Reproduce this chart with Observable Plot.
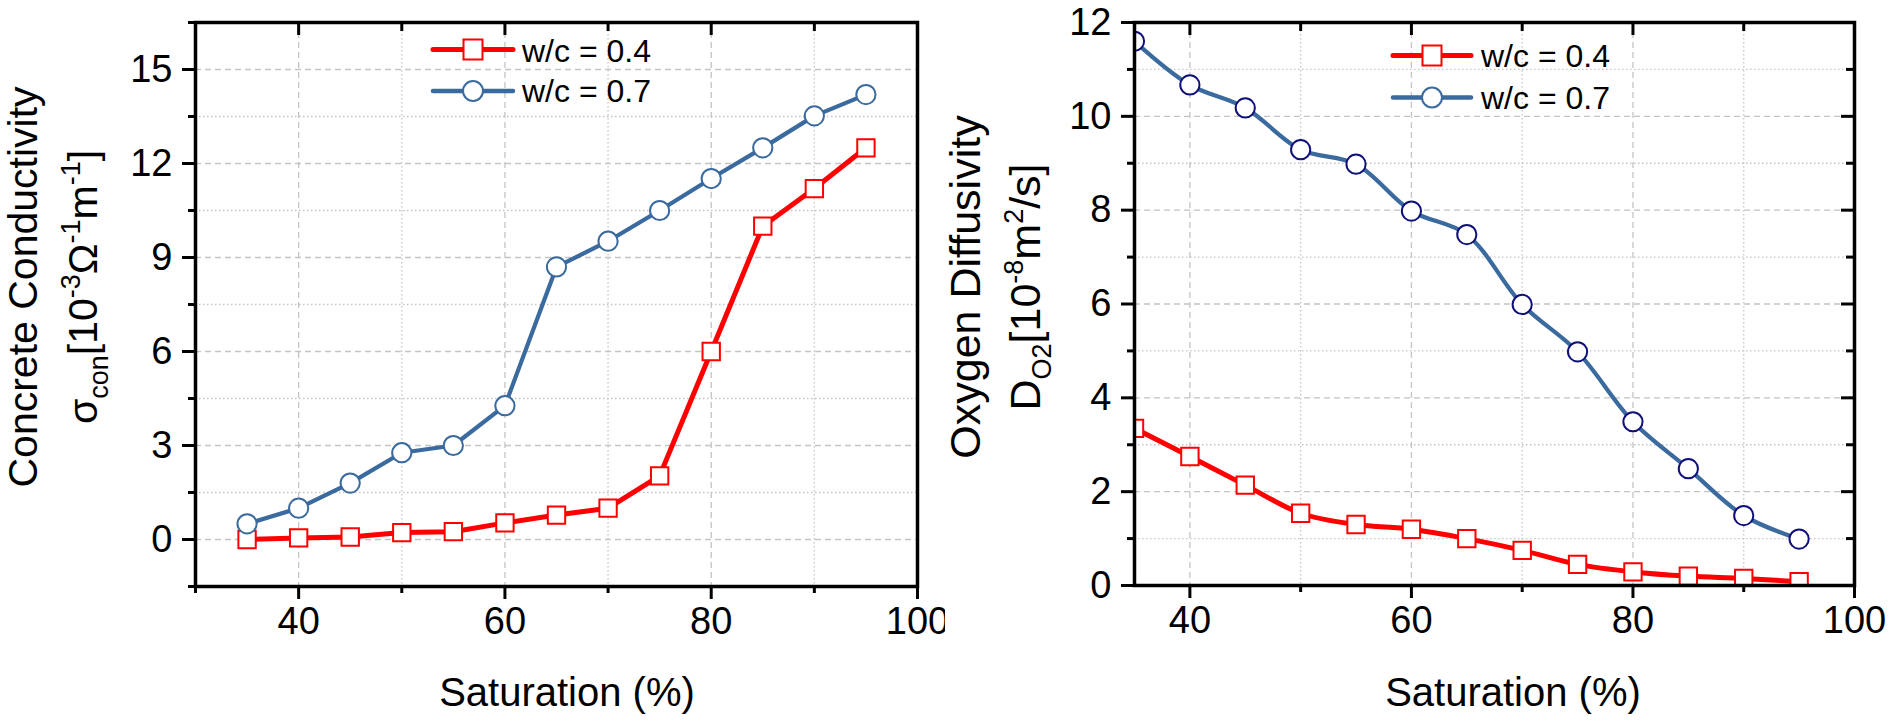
<!DOCTYPE html>
<html><head><meta charset="utf-8">
<script src="https://cdn.jsdelivr.net/npm/d3@7"></script>
<script src="https://cdn.jsdelivr.net/npm/@observablehq/plot@0.6"></script>
<style>
body{margin:0;background:#fff;}
#wrap{display:flex;width:1890px;height:724px;overflow:hidden;}
#wrap svg{display:block;}
</style>
</head><body><div id="wrap"></div>
<script>
// ---- data ----
const saturation = [35,40,45,50,55,60,65,70,75,80,85,90,95];
const seriesNames = ["w/c = 0.4", "w/c = 0.7"];
const conductivityWc04 = [0, 0.05, 0.08, 0.22, 0.25, 0.53, 0.78, 1.0, 2.03, 6.0, 10.0, 11.2, 12.5];
const conductivityWc07 = [0.5, 1.0, 1.8, 2.77, 3.0, 4.27, 8.7, 9.52, 10.5, 11.52, 12.5, 13.52, 14.2];
const diffusivityWc04 = [3.35, 2.75, 2.14, 1.54, 1.30, 1.2, 1.0, 0.75, 0.45, 0.29, 0.2, 0.15, 0.08];
const diffusivityWc07 = [11.6, 10.67, 10.18, 9.29, 8.98, 7.98, 7.48, 5.99, 4.98, 3.49, 2.49, 1.49, 0.99];

const xMajorTicks = [40, 60, 80, 100];
const xMinorTicksLeft = [30, 50, 70, 90];
const xMinorTicksRight = [50, 70, 90];
const condMajorTicks = [0, 3, 6, 9, 12, 15];
const condMinorTicks = [-1.5, 1.5, 4.5, 7.5, 10.5, 13.5, 16.5];
const diffMajorTicks = [0, 2, 4, 6, 8, 10, 12];
const diffMinorTicks = [1, 3, 5, 7, 9, 11];

const xTitle = "Saturation (%)";
const FONT = "'Liberation Sans', Arial, Helvetica, sans-serif";
const RED = "#ff0000";
const BLUE = "#3a6a9e";
const NAVY = "#10107a";
const GRID = "#c4c4c4";

function buildPanel(cfg) {
  const W = 945, H = 724, MT = 22;
  const innerW = W - cfg.ml - cfg.mr, innerH = H - MT - cfg.mb;
  const d04 = saturation.map((s, i) => ({s, v: cfg.a[i]}));
  const d07 = saturation.map((s, i) => ({s, v: cfg.b[i]}));
  const tk = {strokeWidth: 3, label: null, stroke: "black"};
  const inside = (arr, dom) => arr.filter(d => d > dom[0] && d < dom[1]);
  const marks = [
    Plot.ruleX(inside(xMajorTicks, cfg.xDomain), {stroke: GRID, strokeWidth: 1.3, strokeDasharray: "6,4"}),
    Plot.ruleX(inside(cfg.xMinor, cfg.xDomain), {stroke: GRID, strokeWidth: 1.3, strokeDasharray: "1.5,2.5"}),
    Plot.ruleY(inside(cfg.yMajor, cfg.yDomain), {stroke: GRID, strokeWidth: 1.3, strokeDasharray: "6,4"}),
    Plot.ruleY(inside(cfg.yMinor, cfg.yDomain), {stroke: GRID, strokeWidth: 1.3, strokeDasharray: "1.5,2.5"}),
    Plot.line(d04, {x: "s", y: "v", stroke: RED, strokeWidth: 5, curve: cfg.curve, clip: true}),
    Plot.dot(d04, {x: "s", y: "v", symbol: "square", r: 9.8, fill: "white", stroke: RED, strokeWidth: 2, clip: true}),
    Plot.line(d07, {x: "s", y: "v", stroke: BLUE, strokeWidth: 4.2, curve: cfg.curve, clip: true}),
    Plot.dot(d07, {x: "s", y: "v", symbol: "circle", r: 9.6, fill: "white", stroke: cfg.circleStroke, strokeWidth: 2, clip: true}),
    Plot.axisX({ticks: xMajorTicks, tickSize: 13, tickPadding: 8, fontSize: 38, ...tk}),
    Plot.axisX({ticks: cfg.xMinor, tickSize: 7, text: null, ...tk}),
    Plot.axisY({ticks: cfg.yMajor, tickSize: 13, tickPadding: 10, fontSize: 38, ...tk}),
    Plot.axisY({ticks: cfg.yMinor, tickSize: 7, text: null, ...tk}),
    // inward ticks on the top edge
    Plot.tickX(inside(xMajorTicks, cfg.xDomain), {x: d => d, stroke: "black", strokeWidth: 3, insetBottom: innerH - 13}),
    Plot.tickX(inside(cfg.xMinor, cfg.xDomain), {x: d => d, stroke: "black", strokeWidth: 3, insetBottom: innerH - 9})
  ];
  if (cfg.rightTicks) {
    marks.push(Plot.tickY(inside(cfg.yMajor, cfg.yDomain), {y: d => d, stroke: "black", strokeWidth: 3, insetLeft: innerW - 13}));
    marks.push(Plot.tickY(inside(cfg.yMinor, cfg.yDomain), {y: d => d, stroke: "black", strokeWidth: 3, insetLeft: innerW - 8}));
  }
  marks.push(Plot.frame({stroke: "black", strokeWidth: 3.5}));
  const svg = Plot.plot({
    width: W, height: H,
    marginLeft: cfg.ml, marginRight: cfg.mr, marginTop: MT, marginBottom: cfg.mb,
    style: {fontFamily: FONT, background: "white", color: "black", overflow: "visible"},
    x: {domain: cfg.xDomain},
    y: {domain: cfg.yDomain},
    marks
  });

  const root = d3.select(svg);

  // legend
  const lg = root.append("g").attr("text-anchor", "start");
  seriesNames.forEach((name, i) => {
    const y = cfg.leg.ys[i];
    lg.append("line").attr("x1", cfg.leg.x1).attr("x2", cfg.leg.x2).attr("y1", y).attr("y2", y)
      .attr("stroke", i === 0 ? RED : BLUE).attr("stroke-width", i === 0 ? 5 : 4.5).attr("stroke-linecap", "round");
    const cx = (cfg.leg.x1 + cfg.leg.x2) / 2;
    if (i === 0) {
      lg.append("rect").attr("x", cx - 9.5).attr("y", y - 10).attr("width", 19).attr("height", 20)
        .attr("fill", "white").attr("stroke", RED).attr("stroke-width", 2);
    } else {
      lg.append("circle").attr("cx", cx).attr("cy", y).attr("r", 10)
        .attr("fill", "white").attr("stroke", BLUE).attr("stroke-width", 2);
    }
    lg.append("text").attr("x", cfg.leg.tx).attr("y", cfg.leg.bases[i]).attr("text-anchor", "start")
      .attr("font-family", FONT).attr("font-size", 32).attr("fill", "black").text(name);
  });
  // x title
  root.append("text").attr("x", cfg.xtx).attr("y", 706).attr("text-anchor", "middle")
    .attr("font-family", FONT).attr("font-size", 40).attr("fill", "black").text(xTitle);
  // y title
  const yt = root.append("g").attr("font-family", FONT).attr("font-size", cfg.ytSize).attr("fill", "black");
  yt.append("text").attr("transform", `translate(${cfg.yt1},${cfg.ytc}) rotate(-90)`).attr("text-anchor", "middle").text(cfg.title1);
  const t2 = yt.append("text").attr("transform", `translate(${cfg.yt2},${cfg.ytc}) rotate(-90)`).attr("text-anchor", "middle");
  cfg.title2.forEach(part => {
    const ts = t2.append("tspan").text(part.t);
    if (part.k === "sup") ts.attr("font-size", 27).attr("dy", -17);
    else if (part.k === "sub") ts.attr("font-size", 27).attr("dy", 11);
    else if (part.k === "afterSup") ts.attr("dy", 17);
    else if (part.k === "afterSub") ts.attr("dy", -11);
  });
  return svg;
}

const left = buildPanel({
  a: conductivityWc04, b: conductivityWc07,
  xDomain: [30, 100], yDomain: [-1.5, 16.5],
  xMinor: xMinorTicksLeft, yMajor: condMajorTicks, yMinor: condMinorTicks,
  curve: "linear", circleStroke: BLUE, rightTicks: false,
  ml: 195, mr: 28, mb: 138,
  leg: {x1: 433, x2: 513, ys: [49.5, 91], tx: 522, bases: [61.5, 102]},
  xtx: 567, yt1: 37, yt2: 97, ytc: 287, ytSize: 41,
  title1: "Concrete Conductivity",
  title2: [{t: "σ"}, {t: "con", k: "sub"}, {t: "[10", k: "afterSub"}, {t: "-3", k: "sup"}, {t: "Ω", k: "afterSup"},
           {t: "-1", k: "sup"}, {t: "m", k: "afterSup"}, {t: "-1", k: "sup"}, {t: "]", k: "afterSup"}]
});

const right = buildPanel({
  a: diffusivityWc04, b: diffusivityWc07,
  xDomain: [35, 100], yDomain: [0, 12],
  xMinor: xMinorTicksRight, yMajor: diffMajorTicks, yMinor: diffMinorTicks,
  curve: "catmull-rom", circleStroke: NAVY, rightTicks: true,
  ml: 189, mr: 36, mb: 139,
  leg: {x1: 448, x2: 526, ys: [55.5, 97.5], tx: 536, bases: [67, 109]},
  xtx: 568, yt1: 35, yt2: 95, ytc: 287, ytSize: 43,
  title1: "Oxygen Diffusivity",
  title2: [{t: "D"}, {t: "O2", k: "sub"}, {t: "[10", k: "afterSub"}, {t: "-8", k: "sup"}, {t: "m", k: "afterSup"},
           {t: "2", k: "sup"}, {t: "/s]", k: "afterSup"}]
});

document.getElementById("wrap").append(left, right);
</script>
</body></html>
